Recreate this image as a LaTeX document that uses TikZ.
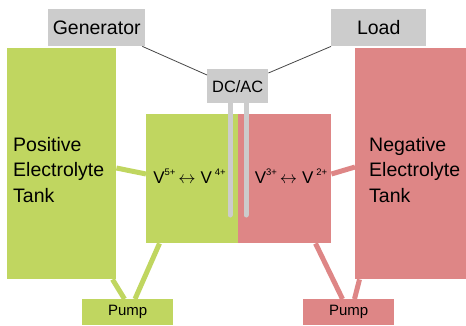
\documentclass[tikz,border=0pt]{standalone}
\usepackage{fontspec}
\setmainfont{Liberation Sans}
\usetikzlibrary{calc}
\definecolor{posg}{RGB}{192,214,96}
\definecolor{negr}{RGB}{222,134,134}
\definecolor{boxgray}{RGB}{204,204,204}
\definecolor{wire}{RGB}{70,70,70}
\newcommand{\rxarrow}{\hspace{3pt}$\leftrightarrow$\hspace{5pt}}
\newcommand{\ionsup}[1]{\raisebox{7.5pt}{\fontsize{9.5}{10}\selectfont #1}}
\begin{document}
\begin{tikzpicture}[x=1pt,y=-1pt,
  blk/.style={rectangle,inner sep=0pt,anchor=north west,draw=none},
  graybox/.style={blk,fill=boxgray},
  pbox/.style={blk,fill=posg},
  nbox/.style={blk,fill=negr},
  bigtxt/.style={font=\fontsize{19.5}{25.5}\selectfont,align=left,inner sep=0pt,anchor=west},
  rxtxt/.style={inner sep=0pt,anchor=base,font=\fontsize{17}{20}\selectfont},
  pipeP/.style={draw=posg,line width=5pt},
  pipeN/.style={draw=negr,line width=5pt},
  electrode/.style={draw=boxgray,line width=5pt,line cap=round},
  wireline/.style={draw=wire,line width=0.8pt}]
\useasboundingbox (0,0) rectangle (466,325);
% boxes
\node[graybox,minimum width=97pt,minimum height=37pt,font=\fontsize{19.5}{22}\selectfont] (gen) at (48,9) {Generator};
\node[graybox,minimum width=95pt,minimum height=37pt,font=\fontsize{19.5}{22}\selectfont] (load) at (331,9) {Load};
\node[pbox,minimum width=109pt,minimum height=231pt] (tankP) at (7,48) {};
\node[nbox,minimum width=111pt,minimum height=231pt] (tankN) at (355,48) {};
\node[graybox,minimum width=61pt,minimum height=34pt,font=\fontsize{16.4}{19}\selectfont] (dcac) at (207,69) {DC/AC};
\node[pbox,minimum width=92pt,minimum height=129pt] (cellP) at (146,114) {};
\node[nbox,minimum width=93pt,minimum height=129pt] (cellN) at (238,114) {};
\node[pbox,minimum width=91pt,minimum height=26pt,font=\fontsize{15}{17}\selectfont] (pumpP) at (82,299) {Pump};
\node[nbox,minimum width=91pt,minimum height=26pt,font=\fontsize{15}{17}\selectfont] (pumpN) at (303,299) {Pump};
% texts
\node[bigtxt] (tPtxt) at (13,170) {Positive\\Electrolyte\\Tank};
\node[bigtxt] (tNtxt) at (369,170) {Negative\\Electrolyte\\Tank};
\node[rxtxt] (rxP) at (189.5,183) {V\ionsup{5+}\rxarrow V\,\ionsup{4+}};
\node[rxtxt] (rxN) at (291,183) {V\ionsup{3+}\rxarrow V\,\ionsup{2+}};
% electrodes
\coordinate (e1end) at (230,215);
\coordinate (e2end) at (246,215);
\draw[electrode] (dcac.south -| e1end) -- (e1end);
\draw[electrode] (dcac.south -| e2end) -- (e2end);
% wires
\draw[wireline] ([xshift=-3pt]gen.south east) -- ([yshift=-6pt]dcac.north west);
\draw[wireline] (load.south west) -- ([yshift=-4pt]dcac.north east);
% pipes
\draw[pipeP] ([yshift=-120pt]tankP.north east) -- ([yshift=-60pt]cellP.north west);
\draw[pipeN] ([yshift=-60pt]cellN.north east) -- ([yshift=-119pt]tankN.north west);
\draw[pipeP] ([xshift=105.5pt]tankP.south west) -- ([xshift=42.5pt]pumpP.north west);
\draw[pipeP] ([xshift=13.5pt]cellP.south west) -- ([xshift=53pt]pumpP.north west);
\draw[pipeN] ([xshift=77.5pt]cellN.south west) -- ([xshift=39.5pt]pumpN.north west);
\draw[pipeN] ([xshift=4.5pt]tankN.south west) -- ([xshift=51.5pt]pumpN.north west);
\end{tikzpicture}
\end{document}
